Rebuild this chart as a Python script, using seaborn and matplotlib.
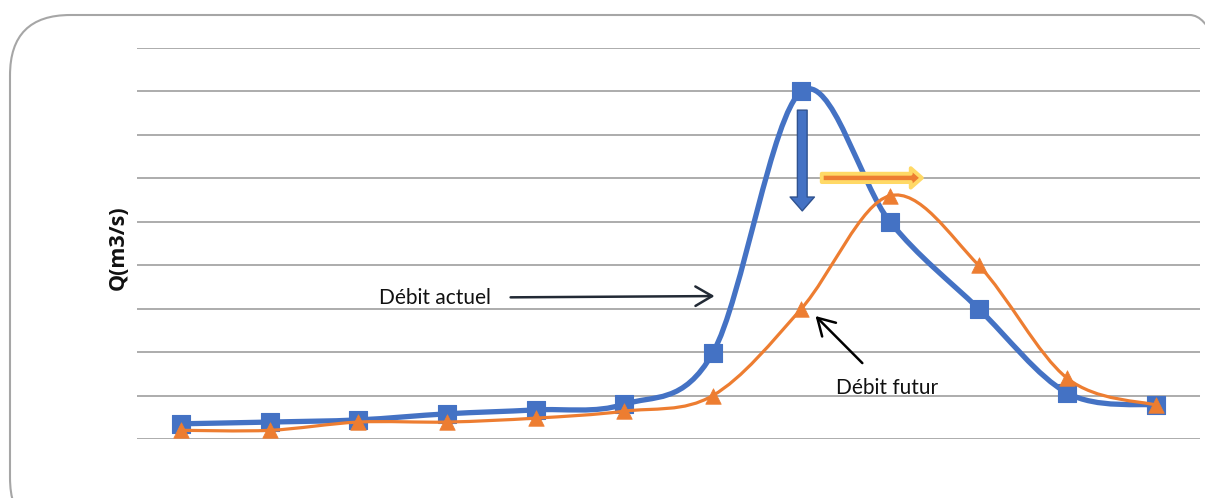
import numpy as np
import pandas as pd
import matplotlib
matplotlib.use("Agg")
import matplotlib.pyplot as plt
import seaborn as sns
from matplotlib.path import Path
from matplotlib.patches import PathPatch, FancyBboxPatch

# valeurs (unités = intervalles de grille)
pas = list(range(12))
debit_actuel = [0.35, 0.39, 0.44, 0.58, 0.67, 0.80, 1.98, 8.0, 5.0, 3.0, 1.06, 0.78]
debit_futur = [0.20, 0.20, 0.39, 0.39, 0.48, 0.64, 1.0, 3.0, 5.6, 4.0, 1.40, 0.78]

BLEU = "#4472C4"
ORANGE = "#ED7D31"

sns.set_style("white")
plt.rcParams['font.family'] = ['Lato', 'DejaVu Sans']


def courbe_lisse(x, y):
    # segments de Bezier type "ligne lissee" d'Excel
    pts = np.column_stack([x, y]).astype(float)
    p = np.vstack([pts[0], pts, pts[-1]])
    verts = [tuple(pts[0])]
    codes = [Path.MOVETO]
    for i in range(1, len(p) - 2):
        c1 = p[i] + (p[i + 1] - p[i - 1]) / 6
        c2 = p[i + 1] - (p[i + 2] - p[i]) / 6
        verts += [tuple(c1), tuple(c2), tuple(p[i + 1])]
        codes += [Path.CURVE4] * 3
    return Path(verts, codes)


df = pd.DataFrame({'pas': pas, 'actuel': debit_actuel, 'futur': debit_futur})

fig = plt.figure(figsize=(12.05, 4.98), dpi=100)
ax = fig.add_axes([137 / 1205, 59 / 498, 1063 / 1205, 391 / 498])

# cadre arrondi
cadre = FancyBboxPatch((10 / 1205, -40 / 498), 1240 / 1205, 523 / 498,
                       boxstyle="round,pad=0,rounding_size=0.05",
                       transform=fig.transFigure, facecolor='none',
                       edgecolor='#a6a6a6', lw=1.5, mutation_aspect=1205 / 498,
                       clip_on=False)
fig.patches.append(cadre)

ax.set_xlim(-0.5, 11.5)
ax.set_ylim(0, 9)
ax.set_yticks(range(0, 10))
ax.set_xticks([])
ax.yaxis.grid(True, color='#a6a6a6', lw=1.3)
ax.tick_params(left=False, labelleft=False)
for s in ax.spines.values():
    s.set_visible(False)
ax.set_axisbelow(True)

ax.add_patch(PathPatch(courbe_lisse(df['pas'], df['actuel']), fill=False,
                       edgecolor=BLEU, lw=3.8, capstyle='round', zorder=2))
sns.scatterplot(data=df, x='pas', y='actuel', marker='s', s=165, color=BLEU,
                edgecolor=BLEU, linewidth=0.8, ax=ax, zorder=3)
ax.add_patch(PathPatch(courbe_lisse(df['pas'], df['futur']), fill=False,
                       edgecolor=ORANGE, lw=2.3, capstyle='round', zorder=4))
sns.scatterplot(data=df, x='pas', y='futur', marker='^', s=125, color=ORANGE,
                edgecolor=ORANGE, linewidth=0.5, ax=ax, zorder=5)

ax.set_xlabel('')
ax.set_ylabel('')
fig.text(118 / 1205, 1 - 248 / 498, 'Q(m3/s)', rotation=90, fontsize=15.5,
         fontweight='bold', family=['Open Sans', 'DejaVu Sans'],
         color='#111111', ha='center', va='center')

# fleches "bloc"
ax.annotate('', xy=(7.01, 5.25), xytext=(7.01, 7.57),
            arrowprops=dict(arrowstyle='simple,head_length=1.0,head_width=1.75,tail_width=0.7',
                            facecolor=BLEU, edgecolor='#2F528F', lw=1,
                            shrinkA=0, shrinkB=0, mutation_scale=10), zorder=6)
ax.annotate('', xy=(8.36, 6.01), xytext=(7.23, 6.01),
            arrowprops=dict(arrowstyle='simple,head_length=0.8,head_width=1.4,tail_width=0.6',
                            facecolor=ORANGE, edgecolor='#FFD966', lw=2.8,
                            shrinkA=0, shrinkB=0, mutation_scale=10), zorder=6)

# etiquettes
ax.annotate('Débit actuel', xy=(6.02, 3.29), xytext=(2.86, 3.25),
            fontsize=15, color='#111111', ha='center', va='center',
            arrowprops=dict(arrowstyle='->,head_length=0.6,head_width=0.35',
                            color='#222A35', lw=1.8, shrinkA=12, shrinkB=0,
                            mutation_scale=20), zorder=6)
ax.annotate('Débit futur', xy=(7.16, 2.83), xytext=(7.97, 1.17),
            fontsize=15, color='#111111', ha='center', va='center',
            arrowprops=dict(arrowstyle='->,head_length=0.6,head_width=0.35',
                            color='black', lw=1.8, shrinkA=12, shrinkB=0,
                            mutation_scale=20), zorder=6)

fig.savefig('out.png', dpi=100)
